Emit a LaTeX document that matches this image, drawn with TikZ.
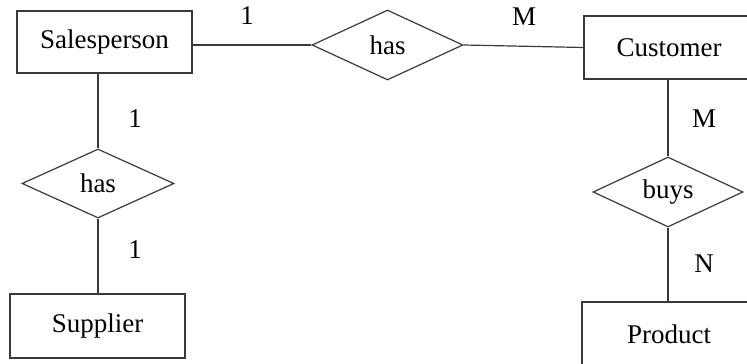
\documentclass[tikz,border=0pt]{standalone}
\usepackage{fontspec}
\setmainfont{Liberation Serif}
\usepackage{tikz}
\usetikzlibrary{positioning,shapes.geometric}
\definecolor{inkgray}{HTML}{3A3A3A}

\begin{document}
\begin{tikzpicture}[
  x=0.5pt,y=-0.5pt,
  font=\fontsize{13.5}{16}\selectfont,
  ent/.style={draw=inkgray,line width=0.6pt,rectangle,inner sep=0pt,align=center},
  rel/.style={draw=inkgray,line width=0.6pt,diamond,inner sep=0pt,aspect=2.15},
  link/.style={draw=inkgray,line width=0.6pt},
  card/.style={inner sep=0pt,text=black}
]
\useasboundingbox (0,0) rectangle (747,363);
\clip (0,0) rectangle (747,363);

%------ entities ---------------------------------------------------------------
\node[ent,minimum width=87.5pt,minimum height=31pt] (sales) at (104.5,42) {Salesperson};
\node[ent,minimum width=87.5pt,minimum height=32pt] (supp)  at (97.5,326) {Supplier};
\node[ent,minimum width=85pt,minimum height=31.5pt] (cust)  at (669,47.5) {Customer};
\node[ent,minimum width=87pt,minimum height=32pt]   (prod)  at (669,334) {Product};

%------ relationships ----------------------------------------------------------
\node[rel,minimum width=75.5pt,minimum height=35pt] (hasC) at (387.5,45) {has};
\node[rel,minimum width=76pt,minimum height=34.5pt] (hasS) at (98,183.5) {has};
\node[rel,minimum width=75pt,minimum height=35pt]   (buys) at (668,192) {buys};

%------ links ------------------------------------------------------------------
\draw[link] (hasC.west -| sales.east) -- (hasC.west);
\draw[link] (hasC.east) -- (cust.west);
\draw[link] (sales.south -| hasS.north) -- (hasS.north);
\draw[link] (hasS.south) -- (supp.north -| hasS.south);
\draw[link] (cust.south -| buys.north) -- (buys.north);
\draw[link] (buys.south) -- (prod.north -| buys.south);

%------ cardinalities ----------------------------------------------------------
\node[card] (c1) at (247,16)  {1};
\node[card] (c2) at (524,17)  {M};
\node[card] (c3) at (135,119) {1};
\node[card] (c4) at (135,250) {1};
\node[card] (c5) at (704,119) {M};
\node[card] (c6) at (704,264) {N};
\end{tikzpicture}
\end{document}
